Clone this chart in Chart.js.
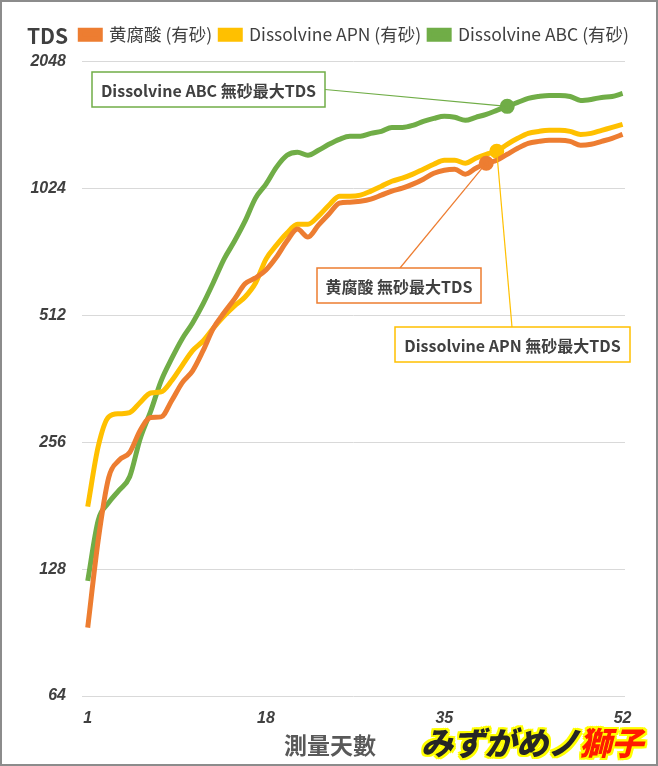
<!DOCTYPE html>
<html>
<head>
<meta charset="utf-8">
<script src="https://cdn.jsdelivr.net/npm/chart.js@4/dist/chart.umd.min.js"></script>
<style>
  body { margin: 0; background: #fff; }
  #wrap { position: relative; width: 658px; height: 766px; box-sizing: border-box; border: 2px solid #8c8c8c; background: #fff; }
  #chart { display: block; }
  #mark {
    position: absolute; left: 419px; top: 716px; white-space: nowrap;
    font: italic 900 32px "Noto Sans CJK JP", sans-serif; color: #262626; letter-spacing: -0.3px;
    text-shadow: 2px 0 #ff0, -2px 0 #ff0, 0 2px #ff0, 0 -2px #ff0, 2px 2px #ff0, -2px -2px #ff0, 2px -2px #ff0, -2px 2px #ff0;
  }
  #mark span { color: #ff1a00; }
</style>
</head>
<body>
<div id="wrap">
  <canvas id="chart" width="654" height="762"></canvas>
  <div id="mark">みずがめノ<span>獅子</span></div>
</div>
<script>
// 測量天數
const days = Array.from({ length: 52 }, (_, i) => i + 1);
const seriesNames = ["黄腐酸 (有砂)", "Dissolvine APN (有砂)", "Dissolvine ABC (有砂)"];
const seriesColors = ["#ED7D31", "#FFC000", "#70AD47"];

// TDS 讀值
const humic = [93,150,211,232,242,273,293,294,321,354,378,422,478,519,560,608,628,656,704,768,
  820,785,838,890,945,950,955,966,987,1009,1025,1048,1077,1112,1131,1137,1107,1143,1175,1194,
  1234,1275,1310,1324,1332,1332,1324,1296,1303,1324,1346,1375];
const apn = [180,250,294,299,301,318,335,337,358,389,422,445,478,510,539,566,611,696,751,802,
  842,842,880,934,981,981,987,1009,1036,1065,1083,1107,1137,1168,1194,1194,1175,1207,1234,1254,
  1303,1346,1383,1398,1406,1406,1398,1375,1383,1406,1429,1453];
const abc = [120,167,184,197,212,261,303,358,404,450,491,545,614,696,768,856,971,1048,1150,1227,
  1247,1227,1261,1303,1339,1361,1361,1383,1398,1429,1429,1445,1477,1501,1518,1510,1485,1510,1535,1568,
  1603,1638,1674,1692,1702,1702,1692,1656,1665,1683,1692,1720];

// 無砂最大TDS 的位置 (天)
const maxDays = [39, 40, 41];
const noteTexts = ["黄腐酸 無砂最大TDS", "Dissolvine APN 無砂最大TDS", "Dissolvine ABC 無砂最大TDS"];

const yTicks = [64, 128, 256, 512, 1024, 2048];
const xTicks = [1, 18, 35, 52];

const allSeries = [humic, apn, abc];

const datasets = allSeries.map((vals, i) => ({
  label: seriesNames[i],
  data: days.map((d, j) => ({ x: d, y: vals[j] })),
  borderColor: seriesColors[i],
  backgroundColor: seriesColors[i],
  borderWidth: 5,
  cubicInterpolationMode: "monotone",
  pointRadius: ctx => (ctx.raw && ctx.raw.x === maxDays[i] ? 5 : 0),
  pointHoverRadius: 0
}));

// 註解方框: 位置是版面 (canvas px)
const notes = [
  { ds: 0, box: [315, 266, 164, 35], anchor: "top", ax: 398 },
  { ds: 1, box: [393, 325, 235, 35], anchor: "top", ax: 510 },
  { ds: 2, box: [90, 70, 233, 35], anchor: "right" }
];

// 圖例下面多留一點空間, 圖例往右一點
const legendTweak = {
  id: "legendTweak",
  beforeInit(chart) {
    const lg = chart.legend;
    if (!lg) return;
    const fit = lg.fit.bind(lg);
    lg.fit = () => { fit(); lg.height += 8; };
  },
  beforeDraw(chart) {
    const lg = chart.legend;
    if (lg && !lg._shifted) { lg.left += 12; lg.right += 12; lg._shifted = true; }
  }
};

const notePlugin = {
  id: "notes",
  afterDatasetsDraw(chart) {
    const ctx = chart.ctx;
    ctx.save();
    notes.forEach(n => {
      const meta = chart.getDatasetMeta(n.ds);
      const pt = meta.data[maxDays[n.ds] - 1];
      const [bx, by, bw, bh] = n.box;
      let sx, sy;
      if (n.anchor === "right") { sx = bx + bw; sy = by + bh / 2; }
      else { sx = n.ax; sy = by; }
      ctx.strokeStyle = seriesColors[n.ds];
      ctx.lineWidth = 1.2;
      ctx.beginPath();
      ctx.moveTo(sx, sy);
      ctx.lineTo(pt.x, pt.y);
      ctx.stroke();
      ctx.fillStyle = "#fff";
      ctx.fillRect(bx, by, bw, bh);
      ctx.lineWidth = 1.5;
      ctx.strokeRect(bx, by, bw, bh);
      ctx.fillStyle = "#404040";
      ctx.font = "bold 16px 'Noto Sans CJK TC', sans-serif";
      ctx.textAlign = "center";
      ctx.textBaseline = "middle";
      ctx.fillText(noteTexts[n.ds], bx + bw / 2, by + bh / 2 + 1);
    });
    // 軸標題
    ctx.fillStyle = "#404040";
    ctx.font = "bold 21px 'Noto Sans CJK TC', sans-serif";
    ctx.textAlign = "left";
    ctx.textBaseline = "middle";
    ctx.fillText("TDS", 25, 34);
    ctx.fillStyle = "#595959";
    ctx.font = "bold 23px 'Noto Sans CJK TC', sans-serif";
    ctx.textAlign = "center";
    ctx.fillText("測量天數", 328, 743);
    ctx.restore();
  }
};

const tickFont = { family: "'Liberation Sans', Arial, sans-serif", size: 16, weight: "bold", style: "italic" };

new Chart(document.getElementById("chart"), {
  type: "line",
  data: { datasets },
  options: {
    responsive: false,
    animation: false,
    layout: { padding: { left: 0, right: 31, top: 16, bottom: 0 } },
    plugins: {
      legend: {
        position: "top",
        align: "end",
        labels: {
          boxWidth: 20, boxHeight: 9, padding: 8, color: "#404040",
          font: { family: "'Noto Sans CJK TC', sans-serif", size: 17.5 }
        }
      },
      tooltip: { enabled: false }
    },
    scales: {
      x: {
        type: "linear",
        min: 0.455, max: 52.23,
        afterBuildTicks: s => { s.ticks = xTicks.map(v => ({ value: v })); },
        afterFit: s => { s.height = 68; },
        grid: { display: false },
        border: { display: false },
        ticks: { color: "#404040", font: tickFont, padding: 5, maxRotation: 0 }
      },
      y: {
        type: "logarithmic",
        min: 64, max: 2048,
        afterBuildTicks: s => { s.ticks = yTicks.map(v => ({ value: v })); },
        afterFit: s => { s.width = 80; },
        grid: { color: "#d9d9d9", drawTicks: false },
        border: { display: false },
        ticks: { color: "#404040", font: tickFont, padding: 16, callback: v => String(v) }
      }
    }
  },
  plugins: [legendTweak, notePlugin]
});
</script>
</body>
</html>
